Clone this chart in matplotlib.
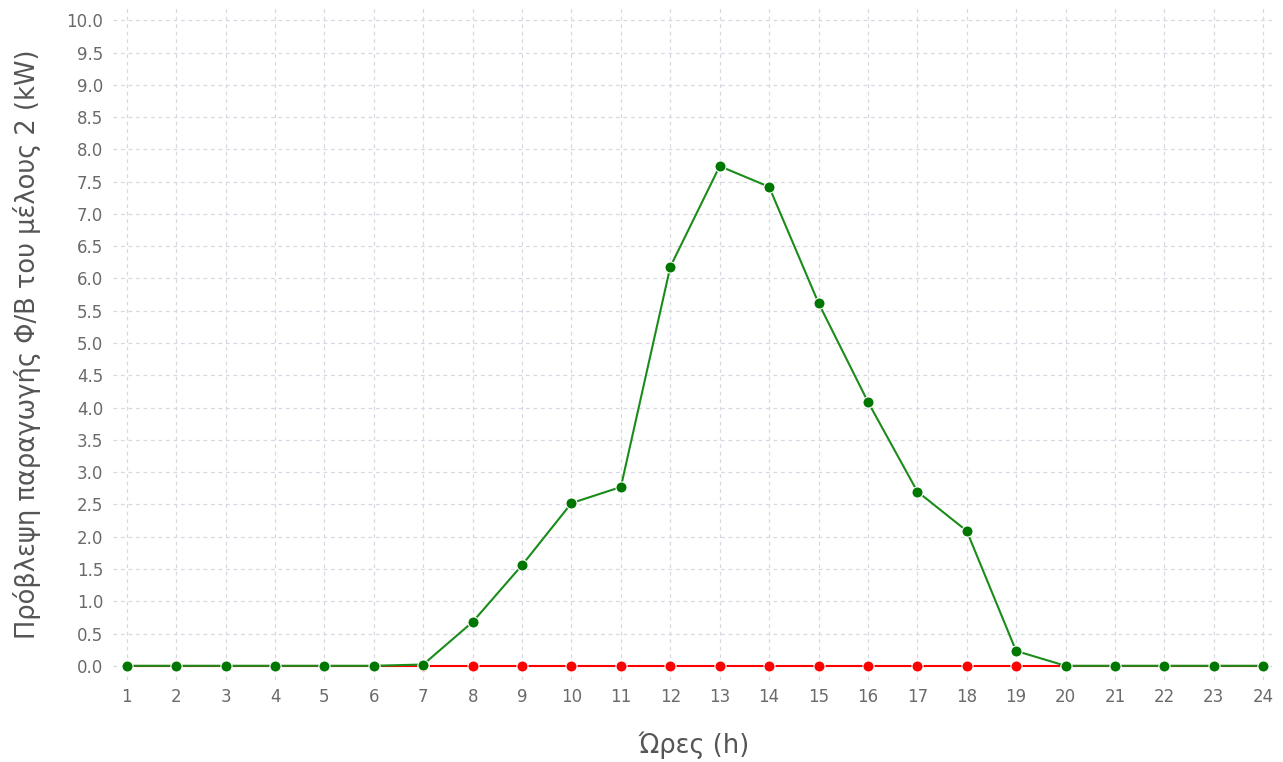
import matplotlib.pyplot as plt

hours = list(range(1, 25))
# forecast (green) and second series (red, all zero)
forecast = [0, 0, 0, 0, 0, 0, 0.02, 0.68, 1.56, 2.52, 2.77, 6.18,
            7.74, 7.42, 5.62, 4.09, 2.70, 2.09, 0.23, 0, 0, 0, 0, 0]
actual = [0] * 24
yticks = [i * 0.5 for i in range(21)]

fig = plt.figure(figsize=(12.83, 7.62), dpi=100)
ax = fig.add_axes([113 / 1283, 1 - 680 / 762, (1275 - 113) / 1283, (680 - 8) / 762])

ax.plot(hours, actual, color='#ff0000', lw=1.5, marker='o', ms=8,
        mec='white', mew=0.8, zorder=3)
ax.plot(hours, forecast, color='#1a8c1a', lw=1.5, marker='o', ms=8,
        mfc='#007700', mec='white', mew=0.8, zorder=4)

ax.set_xlim(0.72, 24.24)
ax.set_ylim(-0.22, 10.19)
ax.set_xticks(hours)
ax.set_yticks(yticks)
ax.set_yticklabels([f'{v:.1f}' for v in yticks])
ax.tick_params(colors='#6a6a6a', labelsize=12, length=0, pad=7)
ax.tick_params(axis='x', pad=6)
ax.grid(True, color='#d8d8e4', linestyle=(0, (3, 3)), lw=0.9)
for s in ax.spines.values():
    s.set_visible(False)

ax.set_xlabel('Ώρες (h)', fontsize=18.5, color='#555555', labelpad=18)
ax.set_ylabel('Πρόβλεψη παραγωγής Φ/Β του μέλους 2 (kW)', fontsize=18.5,
              color='#555555', labelpad=18)

fig.savefig('out.png', dpi=100)
